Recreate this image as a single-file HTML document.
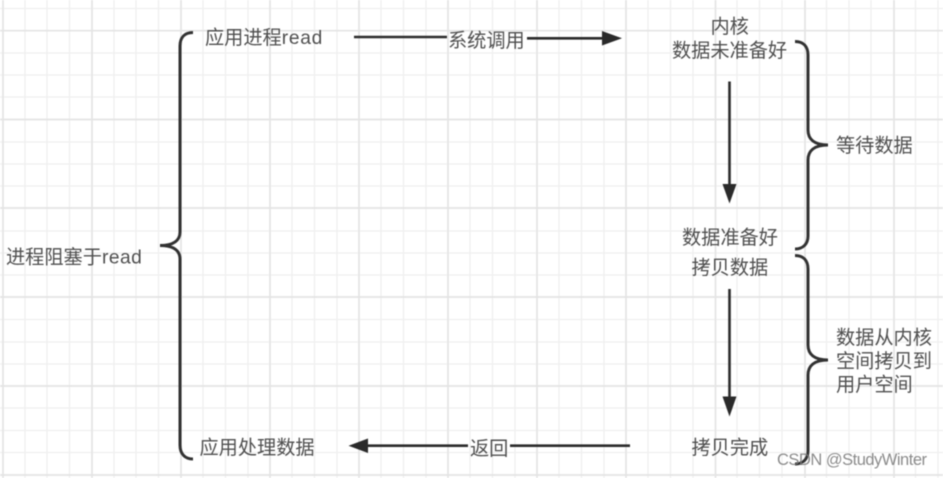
<!DOCTYPE html>
<html><head><meta charset="utf-8"><style>
html,body{margin:0;padding:0;background:#fff;width:943px;height:478px;overflow:hidden}
svg{display:block}
text{font-family:"Liberation Sans","Noto Sans CJK SC",sans-serif;font-size:19.2px;fill:#505050}
</style></head><body>
<svg xmlns="http://www.w3.org/2000/svg" width="943" height="478" viewBox="0 0 943 478">
<defs>
<filter id="b" x="-5%" y="-5%" width="110%" height="110%"><feGaussianBlur stdDeviation="0.6"/></filter>
<filter id="g" x="0" y="0" width="100%" height="100%"><feGaussianBlur stdDeviation="0.4"/></filter>
</defs>
<rect width="943" height="478" fill="#fff"/>
<g filter="url(#g)" fill="none">
<path stroke="#efefef" stroke-width="1.3" d="M25 0V478M47 0V478M69.500 0V478M114 0V478M136 0V478M158.500 0V478M203 0V478M225.500 0V478M248 0V478M292 0V478M314.500 0V478M337 0V478M381 0V478M403.500 0V478M426 0V478M470 0V478M492.500 0V478M515 0V478M559 0V478M581.500 0V478M604 0V478M648 0V478M670.500 0V478M693 0V478M737 0V478M759.500 0V478M782 0V478M826.500 0V478M849 0V478M871 0V478M915.500 0V478M938 0V478M0 8.500H943M0 53H943M0 75H943M0 97H943M0 142H943M0 164H943M0 186H943M0 231H943M0 253H943M0 275H943M0 319.500H943M0 342H943M0 364H943M0 408H943M0 430.500H943M0 452.500H943"/>
<path stroke="#e4e4e4" stroke-width="1.700" d="M3 0V478M92 0V478M181 0V478M270 0V478M359 0V478M448 0V478M537 0V478M626 0V478M715.500 0V478M805 0V478M894 0V478M0 30.700H943M0 119.500H943M0 208H943M0 297H943M0 386H943M0 475H943"/>
</g>
<g filter="url(#b)">
<g fill="none" stroke="#333" stroke-width="3">
<path d="M193 32.500C185 32.500 180 37 180 46V232C180 240 174 245.500 160 245.500C174 245.500 180 251 180 259V445C180 454 185 459 193 459"/>
<path d="M795 41.500C803 41.500 808 46 808 55V130C808 139 814 145 828 145C814 145 808 151 808 160V236C808 244 803 249 795 249"/>
<path d="M795 255.500C803 255.500 808 260 808 269V345C808 354 814 360 828 360C814 360 808 366 808 375V451C808 459 803 464 795 464"/>
</g>
<g stroke="#2a2a2a" stroke-width="2.600" fill="none">
<path d="M354 37H447"/>
<path d="M527 38.300H603"/>
<path d="M729.500 81.500V186"/>
<path d="M729.500 289V398"/>
<path d="M366 445.700H468"/>
<path d="M510 445.700H630"/>
</g>
<g fill="#2a2a2a">
<path d="M622 38.300L602 31V45.500Z"/>
<path d="M729.500 203.500L722.500 184H736.500Z"/>
<path d="M729.500 416.500L722.500 396.500H736.500Z"/>
<path d="M348.500 445.700L368 438.500V453Z"/>
</g>
<g>
<text x="205" y="44">应用进程<tspan letter-spacing="0.700">read</tspan></text>
<text x="448" y="47">系统调用</text>
<text x="710.500" y="33">内核</text>
<text x="672" y="57">数据未准备好</text>
<text x="836" y="152">等待数据</text>
<text x="682" y="244">数据准备好</text>
<text x="691.500" y="274">拷贝数据</text>
<text x="836" y="344">数据从内核</text>
<text x="836" y="367.500">空间拷贝到</text>
<text x="836" y="391">用户空间</text>
<text x="691.500" y="454">拷贝完成</text>
<text x="470" y="455">返回</text>
<text x="199.500" y="454">应用处理数据</text>
<text x="6" y="263.500">进程阻塞于<tspan letter-spacing="0.500">read</tspan></text>
</g>
</g>
<text x="777" y="465" textLength="150" style="font-size:16.500px;fill:#777;opacity:.85" filter="url(#g)">CSDN @StudyWinter</text>
</svg>
</body></html>
